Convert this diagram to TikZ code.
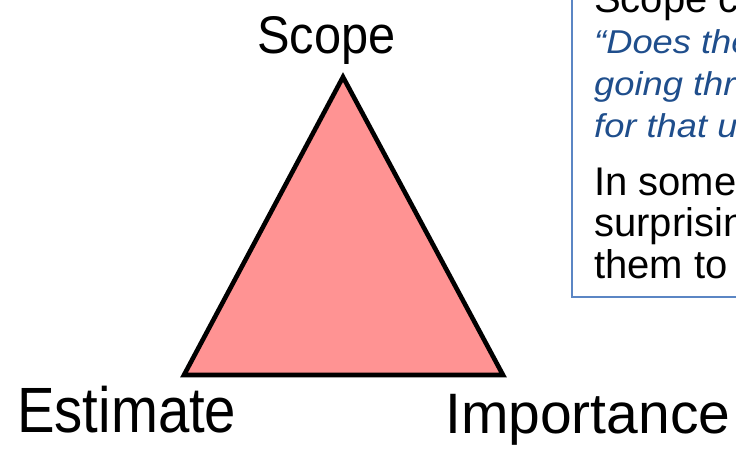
\documentclass[tikz,border=0pt]{standalone}
\usepackage{fontspec}
\setmainfont{Liberation Sans}
\definecolor{trifill}{HTML}{FF9393}
\definecolor{boxline}{HTML}{5B86C4}
\definecolor{quoteblue}{HTML}{1F4E8C}
\tikzset{
  tri/.style={draw=black, line width=4.6pt, fill=trifill, line join=miter},
  corner/.style={inner sep=0pt, anchor=base west, text=black},
  callout/.style={draw=boxline, line width=1.4pt},
  bodytext/.style={inner sep=0pt, anchor=base west, text=black, font=\fontsize{40}{48}\selectfont},
  quotetext/.style={inner sep=0pt, anchor=base west, text=quoteblue, font=\fontsize{33}{40}\selectfont\itshape}
}
\newcommand{\qwide}[1]{\scalebox{1.1}[1]{#1}}
\begin{document}
\begin{tikzpicture}[x=1pt,y=-1pt]
\useasboundingbox (0,0) rectangle (736,448);
\clip (0,0) rectangle (736,448);
% triangle
\coordinate (apex) at (343,77);
\coordinate (bl) at (184,375);
\coordinate (br) at (503,375);
\draw[tri] (apex) -- (bl) -- (br) -- cycle;
% corner labels
\node[corner, font=\fontsize{53}{60}\selectfont] (scope) at (257,53) {\scalebox{0.92}[1]{Scope}};
\node[corner, font=\fontsize{64}{72}\selectfont] (estimate) at (17,432) {\scalebox{0.88}[1]{Estimate}};
\node[corner, font=\fontsize{57}{64}\selectfont] (importance) at (445,433) {Importance};
% callout box (cut by the picture edge)
\draw[callout] (572,-20) rectangle (800,297);
\node[bodytext] (l1) at (594,12) {Scope creep};
\node[quotetext] (l2) at (594,53) {\qwide{“Does the}};
\node[quotetext] (l3) at (594,95) {\qwide{going thro}};
\node[quotetext] (l4) at (594,137) {\qwide{for that us}};
\node[bodytext] (l5) at (594,195) {In some};
\node[bodytext] (l6) at (594,236) {surprising};
\node[bodytext] (l7) at (594,278) {them to};
\end{tikzpicture}
\end{document}
